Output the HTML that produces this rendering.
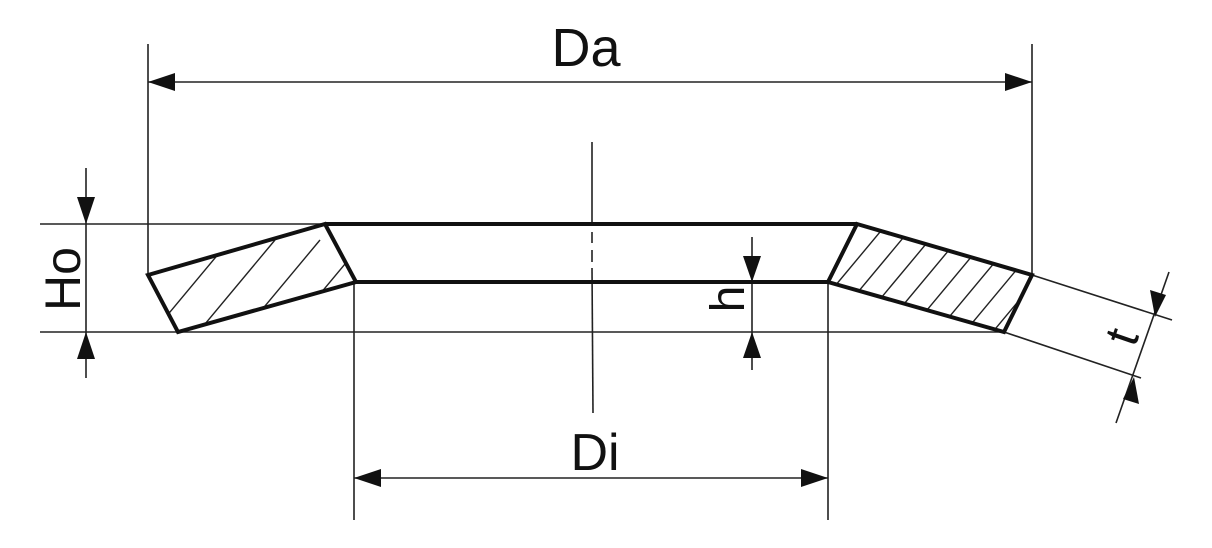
<!DOCTYPE html>
<html><head><meta charset="utf-8"><style>
html,body{margin:0;padding:0;background:#fff;}
svg{display:block;}
text{font-family:"Liberation Sans",sans-serif;fill:#111;}
</style></head><body>
<svg width="1212" height="548" viewBox="0 0 1212 548" xmlns="http://www.w3.org/2000/svg">
<defs>
<clipPath id="cl"><polygon points="148,275 325,224 356,282 178,332"/></clipPath>
<clipPath id="cr"><polygon points="857,224 1032,275 1004,332 828,282"/></clipPath>
</defs>
<g stroke="#222" stroke-width="1.6" fill="none">
<!-- reference lines -->
<line x1="40" y1="224" x2="325" y2="224"/>
<line x1="40" y1="332" x2="1004" y2="332"/>
<!-- extension lines Da -->
<line x1="148" y1="44" x2="148" y2="275"/>
<line x1="1032" y1="44" x2="1032" y2="275"/>
<!-- Di extension -->
<line x1="354" y1="282" x2="354" y2="520"/>
<line x1="828" y1="282" x2="828" y2="520"/>
<!-- center line -->
<line x1="592" y1="142" x2="592" y2="226"/>
<line x1="592" y1="232" x2="592" y2="243"/>
<line x1="592" y1="250" x2="592" y2="262"/>
<line x1="592" y1="268" x2="593" y2="413"/>
<!-- Da dim -->
<line x1="148" y1="82" x2="1032" y2="82"/>
<!-- Di dim -->
<line x1="354" y1="478" x2="828" y2="478"/>
<!-- Ho -->
<line x1="86" y1="168" x2="86" y2="378"/>
<!-- h -->
<line x1="752" y1="237" x2="752" y2="370"/>
<!-- t extension -->
<line x1="1032" y1="275" x2="1172" y2="320"/>
<line x1="1004" y1="332" x2="1141" y2="378"/>
<line x1="1169" y1="272" x2="1116" y2="423"/>
</g>
<!-- hatching -->
<g stroke="#222" stroke-width="1.4" clip-path="url(#cl)">
<line x1="130" y1="360" x2="230" y2="240"/>
<line x1="175" y1="360" x2="275" y2="240"/>
<line x1="220" y1="360" x2="320" y2="240"/>
<line x1="265" y1="360" x2="365" y2="240"/>
<line x1="310" y1="360" x2="410" y2="240"/>
<line x1="355" y1="360" x2="455" y2="240"/>
</g>
<g stroke="#222" stroke-width="1.4" clip-path="url(#cr)">
<line x1="790" y1="340" x2="890" y2="220"/>
<line x1="818" y1="340" x2="918" y2="220"/>
<line x1="846" y1="340" x2="946" y2="220"/>
<line x1="874" y1="340" x2="974" y2="220"/>
<line x1="902" y1="340" x2="1002" y2="220"/>
<line x1="930" y1="340" x2="1030" y2="220"/>
<line x1="958" y1="340" x2="1058" y2="220"/>
<line x1="986" y1="340" x2="1086" y2="220"/>
</g>
<!-- thick outline -->
<g stroke="#111" stroke-width="4" fill="none" stroke-linejoin="miter">
<polygon points="148,275 325,224 356,282 178,332"/>
<polygon points="857,224 1032,275 1004,332 828,282"/>
<line x1="325" y1="224" x2="857" y2="224"/>
<line x1="356" y1="282" x2="828" y2="282"/>
</g>
<!-- arrowheads -->
<g fill="#111">
<polygon points="148,82 175,73 175,91"/>
<polygon points="1032,82 1005,73 1005,91"/>
<polygon points="354,478 381,469 381,487"/>
<polygon points="828,478 801,469 801,487"/>
<polygon points="86,224 77,197 95,197"/>
<polygon points="86,332 77,359 95,359"/>
<polygon points="752,282 743,256 761,256"/>
<polygon points="752,332 743,358 761,358"/>
<polygon points="1155,317 1150,290 1166,295"/>
<polygon points="1134,377 1139,404 1123,399"/>
</g>
<text x="586" y="66" font-size="54" text-anchor="middle">Da</text>
<text x="595" y="470" font-size="52" text-anchor="middle">Di</text>
<text transform="translate(80,279) rotate(-90)" font-size="50" text-anchor="middle">Ho</text>
<text transform="translate(744,299) rotate(-90)" font-size="48" text-anchor="middle">h</text>
<text transform="translate(1137,342) rotate(-71)" font-size="48" text-anchor="middle">t</text>
</svg>
</body></html>
